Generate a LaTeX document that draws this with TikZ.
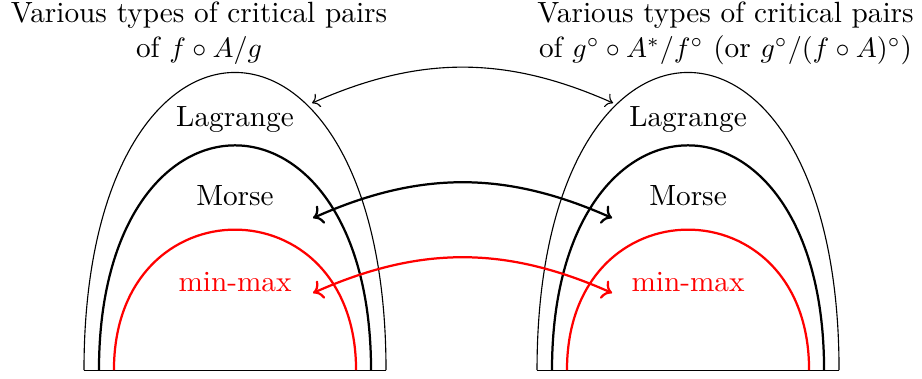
\documentclass[tikz,border=0pt]{standalone}
\usepackage{amsmath,amssymb}
\usepackage{xcolor}
\usepackage{tikz}
\usetikzlibrary{arrows.meta,positioning,calc}
\definecolor{rouge}{RGB}{255,0,0}

\begin{document}
\begin{tikzpicture}[
    every node/.style={font=\fontsize{10.45}{12.55}\selectfont},
    titre/.style={align=center,inner sep=0pt,anchor=north},
    etiq/.style={inner sep=1pt},
    lien/.style={<->,bend left=24},
  ]
      \useasboundingbox (0,0) rectangle (11.57,4.744);
      % titres
      \node[titre] (titreG) at (2.497,4.725) {Various types of critical pairs\\of $f\circ A/g$};
      \node[titre] (titreD) at (9.105,4.725) {Various types of critical pairs\\of $g^\circ\circ A^*/f^\circ$ (or $g^\circ/(f\circ A)^\circ$)};
      % gauche : f o A / g
      \draw (1.054,0.10)--(4.844,0.10);
      \draw (1.054,0.10) .. controls (1.054,5.08) and (4.844,5.08) .. (4.844,0.10);
      \draw[thick] (1.242,0.10) .. controls (1.242,3.86) and (4.656,3.86) .. (4.656,0.10);
      \draw[rouge,thick] (1.430,0.10) .. controls (1.430,2.45) and (4.468,2.45) .. (4.468,0.10);
      \node[etiq] (lagG) at (2.949,3.25) {Lagrange};
      \node[etiq] (morG) at (2.949,2.284) {Morse};
      \node[etiq,rouge] (minG) at (2.949,1.205) {min-max};
      % droite : dual
      \draw (6.739,0.10)--(10.529,0.10);
      \draw (6.739,0.10) .. controls (6.739,5.08) and (10.529,5.08) .. (10.529,0.10);
      \draw[thick] (6.927,0.10) .. controls (6.927,3.86) and (10.341,3.86) .. (10.341,0.10);
      \draw[rouge,thick] (7.115,0.10) .. controls (7.115,2.45) and (10.153,2.45) .. (10.153,0.10);
      \node[etiq] (lagD) at (8.634,3.25) {Lagrange};
      \node[etiq] (morD) at (8.634,2.284) {Morse};
      \node[etiq,rouge] (minD) at (8.634,1.205) {min-max};
      % correspondances
      \coordinate (pLagG) at (3.916,3.451);
      \coordinate (pLagD) at (7.693,3.451);
      \coordinate (pMorG) at (3.928,2.008);
      \coordinate (pMorD) at (7.681,2.008);
      \coordinate (pMinG) at (3.928,1.067);
      \coordinate (pMinD) at (7.681,1.067);
      \draw[lien] (pLagG) to (pLagD);
      \draw[lien,thick] (pMorG) to (pMorD);
      \draw[lien,thick,rouge] (pMinG) to (pMinD);
    \end{tikzpicture}
\end{document}
